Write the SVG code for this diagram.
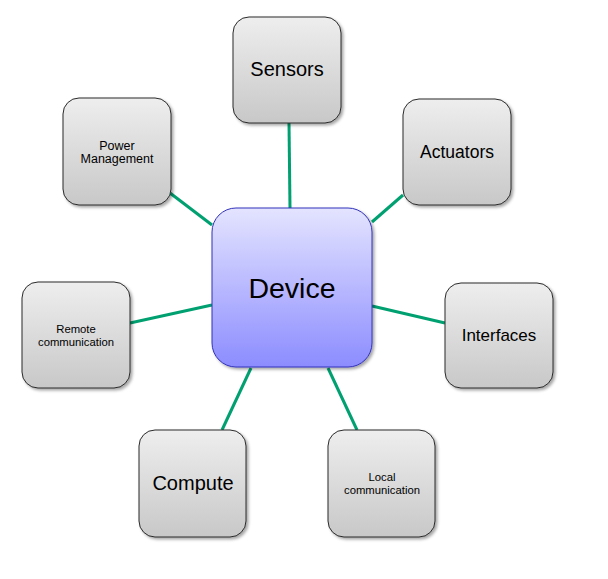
<svg xmlns="http://www.w3.org/2000/svg" width="608" height="579" viewBox="0 0 608 579">
<defs>
<linearGradient id="gGray" x1="0" y1="0" x2="0" y2="1">
<stop offset="0" stop-color="#EEEEEE"/>
<stop offset="1" stop-color="#C8C8C8"/>
</linearGradient>
<linearGradient id="gBlue" x1="0" y1="0" x2="0" y2="1">
<stop offset="0" stop-color="#E4E4FF"/>
<stop offset="1" stop-color="#8C8CFF"/>
</linearGradient>
<filter id="sh" x="-10%" y="-10%" width="130%" height="130%">
<feDropShadow dx="2" dy="2" stdDeviation="1.5" flood-color="#000" flood-opacity="0.35"/>
</filter>
</defs>
<style>
.n{fill:url(#gGray);stroke:#2a2a2a;stroke-width:1;filter:url(#sh)}
.d{fill:url(#gBlue);stroke:#3333BB;stroke-width:1;filter:url(#sh)}
text{font-family:"Liberation Sans",Arial,sans-serif;fill:#000;text-anchor:middle}
.c line{stroke:#00A070;stroke-width:3;stroke-linecap:butt}
</style>
<rect width="608" height="579" fill="#fff"/>
<g class="c" id="connectors">
<line x1="289" y1="123" x2="290" y2="208"/>
<line x1="403" y1="195" x2="372" y2="222"/>
<line x1="170" y1="193" x2="212" y2="225"/>
<line x1="445" y1="323" x2="372" y2="306"/>
<line x1="130" y1="323" x2="212" y2="305"/>
<line x1="251" y1="368" x2="222" y2="430"/>
<line x1="328" y1="368" x2="357" y2="430"/>
</g>
<g id="sensors"><rect class="n" x="233" y="17" width="108" height="106" rx="16"/><text x="287" y="76" font-size="20">Sensors</text></g>
<g id="actuators"><rect class="n" x="403" y="99" width="108" height="106" rx="16"/><text x="457" y="158" font-size="17.5">Actuators</text></g>
<g id="power"><rect class="n" x="63" y="98" width="108" height="107" rx="16"/><text x="117" y="150" font-size="12.5">Power</text><text x="117" y="163" font-size="12.5">Management</text></g>
<g id="interfaces"><rect class="n" x="445" y="283" width="108" height="105" rx="16"/><text x="499" y="341" font-size="17">Interfaces</text></g>
<g id="remote"><rect class="n" x="22" y="282" width="108" height="106" rx="16"/><text x="76" y="333" font-size="11.3">Remote</text><text x="76" y="346" font-size="11.3">communication</text></g>
<g id="compute"><rect class="n" x="139" y="430" width="107" height="107" rx="16"/><text x="193" y="490" font-size="20">Compute</text></g>
<g id="local"><rect class="n" x="328" y="430" width="107" height="107" rx="16"/><text x="382" y="481" font-size="11.3">Local</text><text x="382" y="494" font-size="11.3">communication</text></g>
<g id="device"><rect class="d" x="212" y="208" width="160" height="159" rx="24"/><text x="292" y="298" font-size="28.5">Device</text></g>
</svg>
